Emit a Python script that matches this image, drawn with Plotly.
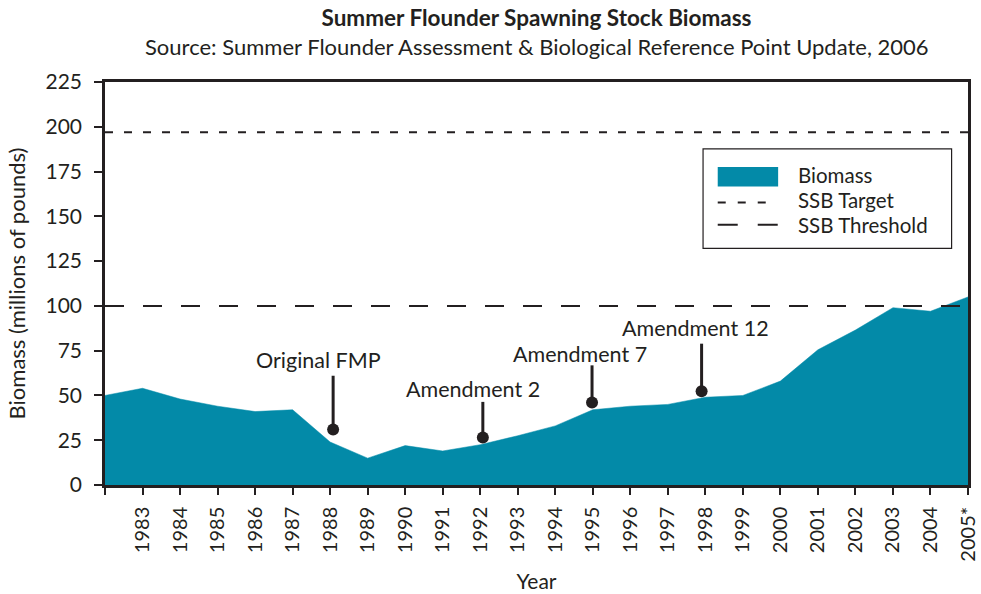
import plotly.graph_objects as go

years = list(range(1982, 2006))
biomass = [50, 54, 48, 44, 41, 42, 24, 15, 22, 19, 22.5, 27.5, 33, 42, 44, 45, 49, 50, 58, 75.5, 86.5, 99, 97, 105]
tick_years = list(range(1982, 2006))
tick_labels = [""] + [str(y) for y in range(1983, 2005)] + ["2005*"]
ssb_target = 197
ssb_threshold = 100

ann_labels = ["Original FMP", "Amendment 2", "Amendment 7", "Amendment 12"]
ann_x = [1988.08, 1992.07, 1994.98, 1997.9]
ann_dot = [31, 26.5, 46, 52.3]
ann_top = [61, 46.4, 66.8, 78.9]
ann_label_x = [1987.7, 1991.8, 1994.67, 1997.75]
ann_label_y = [70, 53.5, 73.3, 87.8]

FILL = "#038aa8"
INK = "#231f20"
FONT = "Lato, 'Open Sans', sans-serif"

fig = go.Figure()
fig.add_trace(go.Scatter(x=years, y=biomass, mode="lines", fill="tozeroy",
                         fillcolor=FILL, line=dict(color=FILL, width=0.5),
                         name="Biomass", showlegend=False, hoverinfo="x+y"))
fig.add_trace(go.Scatter(x=[years[0], years[-1]], y=[ssb_target, ssb_target], mode="lines",
                         line=dict(color=INK, width=2, dash="8px,11px"),
                         name="SSB Target", showlegend=False))
fig.add_trace(go.Scatter(x=[years[0], years[-1]], y=[ssb_threshold, ssb_threshold], mode="lines",
                         line=dict(color=INK, width=2, dash="19px,19px"),
                         name="SSB Threshold", showlegend=False))

for i in range(len(ann_labels)):
    fig.add_trace(go.Scatter(x=[ann_x[i], ann_x[i]], y=[ann_dot[i], ann_top[i]], mode="lines",
                             line=dict(color=INK, width=3), showlegend=False, hoverinfo="skip"))
    fig.add_trace(go.Scatter(x=[ann_x[i]], y=[ann_dot[i]], mode="markers",
                             marker=dict(color=INK, size=12), showlegend=False,
                             name=ann_labels[i]))
    fig.add_annotation(x=ann_label_x[i], y=ann_label_y[i], text=ann_labels[i], showarrow=False,
                       xref="x", yref="y", font=dict(size=21.5, color=INK, family=FONT))

# legend (manual, paper coords)
fig.add_shape(type="rect", xref="paper", yref="paper", x0=0.693, x1=0.981, y0=0.587, y1=0.834,
              line=dict(color=INK, width=1.2), fillcolor="white")
fig.add_shape(type="rect", xref="paper", yref="paper", x0=0.710, x1=0.780, y0=0.741, y1=0.789,
              line=dict(width=0), fillcolor=FILL)
fig.add_shape(type="line", xref="paper", yref="paper", x0=0.710, x1=0.768, y0=0.701, y1=0.701,
              line=dict(color=INK, width=2, dash="8px,12px"))
fig.add_shape(type="line", xref="paper", yref="paper", x0=0.710, x1=0.780, y0=0.646, y1=0.646,
              line=dict(color=INK, width=2, dash="20px,20px"))
for ty, txt in zip([0.770, 0.706, 0.646], ["Biomass", "SSB Target", "SSB Threshold"]):
    fig.add_annotation(x=0.801, y=ty, xref="paper", yref="paper", text=txt, showarrow=False,
                       xanchor="left", yanchor="middle", font=dict(size=20.5, color=INK, family=FONT))

# subtitle
fig.add_annotation(x=0.5, y=1.089, xref="paper", yref="paper", showarrow=False,
                   xanchor="center", yanchor="middle",
                   text="Source: Summer Flounder Assessment &amp; Biological Reference Point Update, 2006",
                   font=dict(size=22, color=INK, family=FONT))

fig.update_layout(
    width=981, height=594,
    margin=dict(l=105, r=13, t=82, b=109),
    plot_bgcolor="white", paper_bgcolor="white",
    font=dict(family=FONT, color=INK, size=20),
    title=dict(text="<b>Summer Flounder Spawning Stock Biomass</b>",
               x=0.5, xref="paper", xanchor="center", y=0.970, yref="container", yanchor="middle",
               font=dict(size=22.5, color=INK, family=FONT)),
    showlegend=False,
)
fig.update_xaxes(range=[1982, 2005], tickmode="array", tickvals=tick_years, ticktext=tick_labels,
                 tickangle=-90, ticks="outside", ticklen=7, tickwidth=1.5, tickcolor=INK,
                 ticklabelstandoff=4, automargin=False,
                 showline=True, linecolor=INK, linewidth=2.5, mirror=True, showgrid=False,
                 zeroline=False, tickfont=dict(size=20, color=INK),
                 title=dict(text="Year", font=dict(size=21, color=INK), standoff=14))
fig.update_yaxes(range=[0, 225], tickmode="array", tickvals=list(range(0, 226, 25)),
                 ticks="outside", ticklen=8, tickwidth=1.5, tickcolor=INK,
                 ticklabelstandoff=8, automargin=False,
                 showline=True, linecolor=INK, linewidth=2.5, mirror=True, showgrid=False,
                 zeroline=False, tickfont=dict(size=21, color=INK),
                 title=dict(text="Biomass (millions of pounds)", font=dict(size=22, color=INK), standoff=14))

fig.write_html("out.html", config={"displayModeBar": False},
               post_script="document.body.style.margin='0';document.body.style.overflow='hidden';")
